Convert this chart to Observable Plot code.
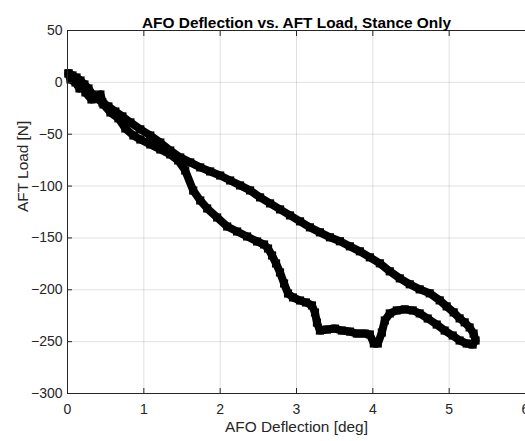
<!DOCTYPE html>
<html>
<head>
<meta charset="utf-8">
<script src="https://cdn.jsdelivr.net/npm/d3@7"></script>
<script src="https://cdn.jsdelivr.net/npm/@observablehq/plot@0.6"></script>
<style>
  html, body { margin: 0; padding: 0; background: #fff; }
</style>
</head>
<body>
<div id="chart"></div>
<script>
// AFO deflection [deg] along the stance-phase loop
const deflection = [
  0.013, 0.039, 0.105, 0.157, 0.196, 0.235, 0.314, 0.392, 0.431, 0.471, 0.562, 0.667, 0.758, 0.863, 0.954,
  1.085, 1.216, 1.346, 1.451, 1.542, 1.647, 1.739, 1.830, 1.961, 2.092, 2.222, 2.353, 2.484, 2.575, 2.627,
  2.680, 2.732, 2.784, 2.837, 2.889, 2.954, 3.046, 3.124, 3.203, 3.242, 3.268, 3.307, 3.399, 3.503, 3.595,
  3.699, 3.791, 3.895, 3.961, 4.013, 4.065, 4.118, 4.157, 4.222, 4.314, 4.418, 4.523, 4.614, 4.719, 4.837,
  4.941, 5.046, 5.137, 5.229, 5.307, 5.346, 5.320,
  5.268, 5.203, 5.137, 5.059, 4.967, 4.876, 4.745, 4.614, 4.484, 4.353, 4.222, 4.092, 3.961, 3.830, 3.699,
  3.569, 3.438, 3.307, 3.176, 3.046, 2.915, 2.784, 2.654, 2.523, 2.392, 2.261, 2.131, 2.000, 1.869, 1.739,
  1.608, 1.477, 1.346, 1.216, 1.085, 0.954, 0.824, 0.719, 0.627, 0.536, 0.458, 0.379, 0.327, 0.275, 0.222,
  0.170, 0.118, 0.065, 0.013
];
// AFT load [N] at the same samples
const load = [
  8.6, 2.8, -0.1, -5.9, -2.0, -9.7, -16.5, -13.6, -11.7, -21.3, -29.0, -34.7, -44.5, -51.2, -55.1,
  -59.9, -64.7, -69.5, -75.3, -85.0, -104.3, -113.9, -121.6, -130.3, -139.0, -143.8, -148.6, -153.4, -156.3, -160.2,
  -166.9, -174.6, -183.3, -193.9, -203.6, -207.4, -210.3, -212.2, -215.1, -221.9, -231.6, -239.3, -238.3, -237.4, -239.3,
  -240.3, -242.2, -242.2, -243.1, -251.8, -251.8, -241.2, -229.6, -222.8, -219.9, -218.9, -219.9, -222.8, -227.7, -233.5,
  -239.3, -244.1, -248.9, -251.8, -252.8, -248.9, -242.2,
  -236.3, -231.4, -227.6, -221.8, -216.0, -210.2, -203.4, -199.6, -194.7, -189.0, -182.2, -174.5, -168.7, -162.9, -158.1,
  -153.2, -149.4, -144.6, -139.8, -134.0, -128.3, -122.5, -116.7, -110.9, -104.2, -99.4, -94.6, -89.8, -85.9, -82.0,
  -77.2, -72.4, -65.7, -58.0, -51.2, -45.3, -38.6, -32.8, -28.1, -23.2, -19.4, -15.5, -11.7, -5.9, -2.0,
  1.8, 4.7, 6.7, 8.6
];

const xTicks = [0, 1, 2, 3, 4, 5, 6];
const yTicks = [-300, -250, -200, -150, -100, -50, 0, 50];
const xDomain = [0, 6];
const yDomain = [-300, 50];

const titleText = "AFO Deflection vs. AFT Load, Stance Only";
const xLabel = "AFO Deflection [deg]";
const yLabel = "AFT Load [N]";

const points = deflection.map((d, i) => ({deflection: d, load: load[i]}));

const axisColor = "#262626";
const font = "'Liberation Sans', Arial, Helvetica, sans-serif";

const chart = Plot.plot({
  width: 525,
  height: 441,
  marginTop: 30,
  marginBottom: 48,
  marginLeft: 67,
  marginRight: 0,
  x: {domain: xDomain},
  y: {domain: yDomain},
  style: {fontFamily: font, fontSize: "14px", color: axisColor, background: "#fff", overflow: "visible"},
  marks: [
    Plot.gridX(xTicks, {stroke: "#000", strokeOpacity: 0.12}),
    Plot.gridY(yTicks, {stroke: "#000", strokeOpacity: 0.12}),
    Plot.line(points, {x: "deflection", y: "load", stroke: "#000", strokeWidth: 8, strokeLinejoin: "round", strokeLinecap: "round"}),
    Plot.dot(points, {x: "deflection", y: "load", symbol: "square", r: 4.6, fill: "#000", stroke: "none"}),
    Plot.ruleX([xDomain[0]], {stroke: axisColor}),
    Plot.ruleY(yDomain, {stroke: axisColor}),
    Plot.axisX(xTicks, {anchor: "bottom", tickSize: -5, tickPadding: 16, label: null, fontSize: 14, stroke: axisColor, fill: axisColor}),
    Plot.axisX(xTicks, {anchor: "top", tickSize: -5, tickFormat: () => "", label: null, stroke: axisColor}),
    Plot.axisY(yTicks, {anchor: "left", tickSize: -5, tickPadding: 10, label: null, fontSize: 14, stroke: axisColor, fill: axisColor}),
    Plot.text([titleText], {frameAnchor: "top", dy: -13, fontSize: 15.4, fontWeight: "bold", fill: "#000"}),
    Plot.text([xLabel], {frameAnchor: "bottom", dy: 38, fontSize: 15.4, fill: axisColor}),
    Plot.text([yLabel], {frameAnchor: "left", dx: -44, rotate: -90, fontSize: 15.4, fill: axisColor})
  ]
});
document.getElementById("chart").appendChild(chart);
</script>
</body>
</html>
